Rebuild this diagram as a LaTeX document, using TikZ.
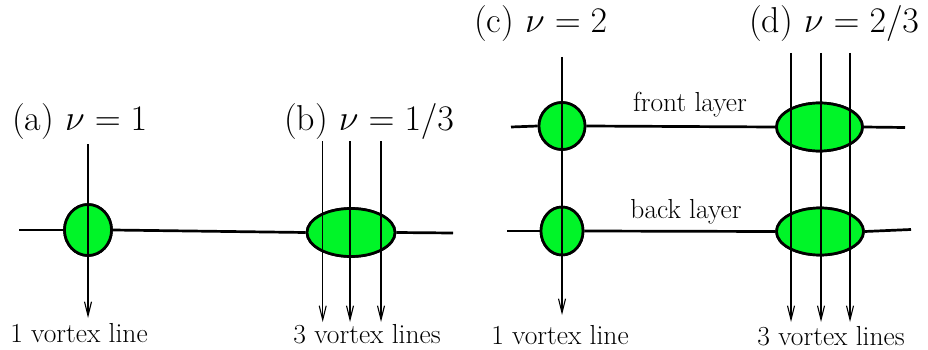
\documentclass[tikz,border=0pt]{standalone}
\usepackage{fix-cm}
\usepackage{fontspec}
\usetikzlibrary{shapes.geometric,arrows.meta}
\definecolor{blobgreen}{RGB}{0,245,40}
\begin{document}
\begin{tikzpicture}[x=1pt,y=-1pt,
  wire/.style={line width=2.7pt},
  blob/.style={ellipse,draw=black,line width=2.7pt,fill=blobgreen,inner sep=0pt},
  vline/.style={line width=1.2pt,-{Straight Barb[length=14pt,width=7pt,line width=1.1pt]}},
  title/.style={anchor=base west,inner sep=0pt,font=\fontsize{36}{43}\selectfont},
  lbl/.style={anchor=base,inner sep=0pt,font=\fontsize{27.5}{33}\selectfont}]
\useasboundingbox (0,0) rectangle (928,350);
% panel (a),(b)
\coordinate (abL) at (19,230);
\coordinate (abR) at (453,233);
\node[blob,minimum width=47pt,minimum height=51pt] (ea) at (88,230) {};
\node[blob,minimum width=88pt,minimum height=48pt] (eb) at (351,232.5) {};
\draw[wire] (abL) -- (ea.west);
\draw[wire] (ea.east) -- (eb.west);
\draw[wire] (eb.east) -- (abR);
\node[blob,minimum width=47pt,minimum height=51pt] at (88,230) {};
\node[blob,minimum width=88pt,minimum height=48pt] at (351,232.5) {};
\coordinate (aT) at (88,144); \coordinate (aB) at (88,318);
\draw[vline] (aT) -- (aB);
\foreach \x [count=\i] in {322.7,350,381}{
  \coordinate (bT\i) at (\x,141); \coordinate (bB\i) at (\x,322);
  \draw[vline] (bT\i) -- (bB\i);
}
\node[title] (ta) at (12,130) {(a) $\nu=1$};
\node[title] (tb) at (284,130) {(b) $\nu=1/3$};
\node[lbl] (la) at (79,342) {1 vortex line};
\node[lbl] (lb) at (367,343) {3 vortex lines};
% panel (c),(d)
\coordinate (fL) at (511,127);
\coordinate (fR) at (905,127.5);
\coordinate (kL) at (507,231);
\coordinate (kR) at (911,229.5);
\node[blob,minimum width=46pt,minimum height=47pt] (cf) at (562,126) {};
\node[blob,minimum width=42pt,minimum height=48pt] (cb) at (562,231) {};
\node[blob,minimum width=86pt,minimum height=48pt] (df) at (819.5,127) {};
\node[blob,minimum width=87pt,minimum height=47pt] (db) at (820,231.5) {};
\draw[wire] (fL) -- (cf.west);
\draw[wire] (cf.east) -- (df.west);
\draw[wire] (df.east) -- (fR);
\draw[wire] (kL) -- (cb.west);
\draw[wire] (cb.east) -- (db.west);
\draw[wire] (db.east) -- (kR);
\node[blob,minimum width=46pt,minimum height=47pt] at (562,126) {};
\node[blob,minimum width=42pt,minimum height=48pt] at (562,231) {};
\node[blob,minimum width=86pt,minimum height=48pt] at (819.5,127) {};
\node[blob,minimum width=87pt,minimum height=47pt] at (820,231.5) {};
\coordinate (cT) at (562,57); \coordinate (cB) at (562,315);
\draw[vline] (cT) -- (cB);
\foreach \x [count=\i] in {791,821,850}{
  \coordinate (dT\i) at (\x,53); \coordinate (dB\i) at (\x,322);
  \draw[vline] (dT\i) -- (dB\i);
}
\node[title] (tc) at (474,33) {(c) $\nu=2$};
\node[title] (td) at (749,33) {(d) $\nu=2/3$};
\node[lbl] (front) at (690,112) {front layer};
\node[lbl] (back) at (686,218) {back layer};
\node[lbl] (lc) at (560,344) {1 vortex line};
\node[lbl] (ld) at (831,345) {3 vortex lines};
\end{tikzpicture}
\end{document}
